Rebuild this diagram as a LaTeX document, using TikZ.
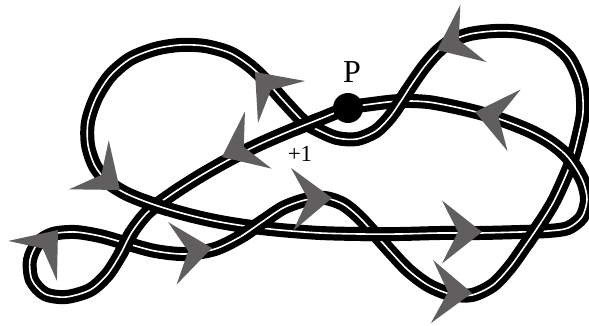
\documentclass[tikz,border=0pt]{standalone}
\usepackage{fontspec}
\setmainfont{Liberation Serif}
\definecolor{arrowgray}{RGB}{96,94,95}
\tikzset{
  bandouter/.style={draw=black,line width=14pt},
  bandinner/.style={draw=white,line width=1.6pt},
  flowhead/.style={fill=arrowgray,draw=none}
}
\newcommand{\flowarrow}[3]{\fill[flowhead,shift={(#1,#2)},rotate=#3] (0,0) -- (-40,31.5) -- (-24,0) -- (-40,-31.5) -- cycle;}
\newcommand{\overpart}[2]{\begin{scope}\clip #1 circle (15pt);\draw[bandouter] plot[smooth] coordinates {#2};\draw[bandinner] plot[smooth] coordinates {#2};\end{scope}}
\begin{document}
\begin{tikzpicture}[x=1pt,y=-1pt]
\useasboundingbox (0,0) rectangle (589,326);
% the whole closed band
\draw[bandouter] plot[smooth cycle] coordinates {(348,108) (320,119) (290,131) (260,144) (230,159) (200,176) (172,194) (148,212) (132,232) (120,255) (107,275) (90,290) (66,297) (45,294) (32,280) (30,260) (38,243) (53,234) (75,232) (100,236) (125,243) (155,251) (185,254) (215,249) (240,237) (262,222) (283,208) (305,200) (325,198) (343,204) (358,216) (373,232) (390,251) (408,270) (428,285) (450,294) (472,295) (493,285) (510,267) (525,246) (540,224) (553,203) (563,182) (572,160) (578,138) (583,112) (581,85) (569,58) (548,40) (520,32) (495,31) (470,34) (451,41) (437,52) (424,67) (412,84) (401,101) (390,117) (376,131) (357,139) (337,138) (318,130) (303,121) (283,100) (267,82) (250,66) (230,53) (205,46) (180,45) (155,49) (130,59) (110,76) (96,98) (88,122) (88,145) (95,166) (108,182) (127,194) (155,205) (185,214) (215,221) (245,226) (280,230) (320,233) (360,234) (400,234) (440,233) (480,233) (520,232) (548,231) (568,228) (582,217) (587,200) (584,184) (577,170) (566,155) (550,142) (530,131) (505,121) (480,113) (455,107) (428,102) (400,101) (372,104)};
\draw[bandinner] plot[smooth cycle] coordinates {(348,108) (320,119) (290,131) (260,144) (230,159) (200,176) (172,194) (148,212) (132,232) (120,255) (107,275) (90,290) (66,297) (45,294) (32,280) (30,260) (38,243) (53,234) (75,232) (100,236) (125,243) (155,251) (185,254) (215,249) (240,237) (262,222) (283,208) (305,200) (325,198) (343,204) (358,216) (373,232) (390,251) (408,270) (428,285) (450,294) (472,295) (493,285) (510,267) (525,246) (540,224) (553,203) (563,182) (572,160) (578,138) (583,112) (581,85) (569,58) (548,40) (520,32) (495,31) (470,34) (451,41) (437,52) (424,67) (412,84) (401,101) (390,117) (376,131) (357,139) (337,138) (318,130) (303,121) (283,100) (267,82) (250,66) (230,53) (205,46) (180,45) (155,49) (130,59) (110,76) (96,98) (88,122) (88,145) (95,166) (108,182) (127,194) (155,205) (185,214) (215,221) (245,226) (280,230) (320,233) (360,234) (400,234) (440,233) (480,233) (520,232) (548,231) (568,228) (582,217) (587,200) (584,184) (577,170) (566,155) (550,142) (530,131) (505,121) (480,113) (455,107) (428,102) (400,101) (372,104)};
% over-crossings
\overpart{(307,124)}{(372,104) (348,108) (320,119) (290,131) (260,144) (230,159)}
\overpart{(157,205)}{(95,166) (108,182) (127,194) (155,205) (185,214) (215,221)}
\overpart{(126,243)}{(172,194) (148,212) (132,232) (120,255) (107,275) (90,290)}
\overpart{(253,228)}{(185,254) (215,249) (240,237) (262,222) (283,208) (305,200)}
\overpart{(533,233)}{(493,285) (510,267) (525,246) (540,224) (553,203) (563,182)}
\overpart{(401,101)}{(437,52) (424,67) (412,84) (401,101) (390,117) (376,131) (357,139)}
\overpart{(375,234)}{(280,230) (320,233) (360,234) (400,234) (440,233) (480,233)}
\overpart{(571,163)}{(587,200) (584,184) (577,170) (566,155) (550,142) (530,131)}
% direction arrows
\flowarrow{255}{72}{131.6}
\flowarrow{437}{50}{204.5}
\flowarrow{475}{112}{168}
\flowarrow{222}{157}{205}
\flowarrow{120}{190}{-39}
\flowarrow{332}{198}{2}
\flowarrow{482}{232}{0}
\flowarrow{58}{230}{50.6}
\flowarrow{212}{248}{7.7}
\flowarrow{472}{293}{-2}
% point P
\node[circle,fill=black,minimum size=30pt,inner sep=0pt] (Pdot) at (348,108) {};
\node[inner sep=0pt] (Plabel) at (352,72) {\fontsize{32}{32}\selectfont P};
\node[inner sep=0pt] (plusone) at (300,154) {\fontsize{23}{23}\selectfont +1};
\end{tikzpicture}
\end{document}
